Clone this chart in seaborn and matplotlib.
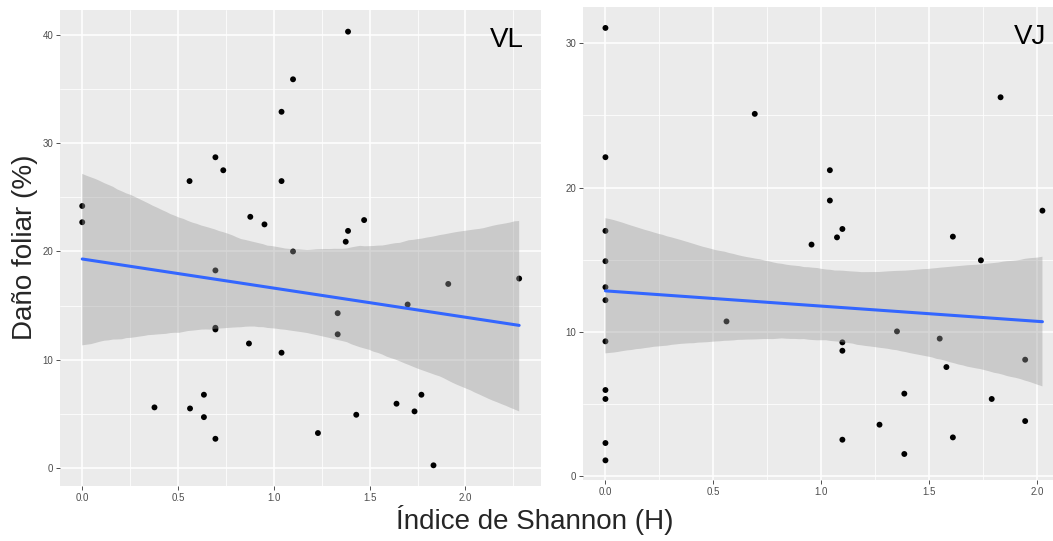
import numpy as np
import pandas as pd
import matplotlib
matplotlib.use("Agg")
import matplotlib.pyplot as plt
import seaborn as sns
from matplotlib.ticker import MultipleLocator

# ---- data ----
vl_h = [0.0, 0.0, 0.56, 0.695, 0.736, 0.877, 0.951, 1.04, 1.04, 1.10, 1.387, 1.471,
        1.387, 1.375, 1.10, 0.695, 0.695, 0.695, 0.87, 1.04, 0.635, 0.377, 0.5625,
        0.635, 0.695, 1.333, 1.333, 1.698, 1.91, 2.28, 1.23, 1.43, 1.64, 1.734, 1.77, 1.833]
vl_dano = [24.2, 22.7, 26.5, 28.7, 27.5, 23.2, 22.5, 32.9, 26.5, 35.9, 40.3, 22.9,
           21.9, 20.9, 20.0, 18.25, 12.95, 12.8, 11.5, 10.65, 6.77, 5.6, 5.5,
           4.7, 2.7, 14.3, 12.35, 15.1, 17.0, 17.5, 3.23, 4.92, 5.94, 5.23, 6.77, 0.25]

vj_h = [0.0] * 11 + [0.692, 0.561, 1.831, 1.04, 1.04, 1.098, 1.073, 0.955, 1.61, 2.025,
                     1.74, 1.351, 1.549, 1.098, 1.098, 1.58, 1.945, 1.385, 1.79, 1.27,
                     1.945, 1.098, 1.61, 1.385]
vj_dano = [31.05, 22.1, 17.0, 14.9, 13.1, 12.2, 9.35, 5.98, 5.36, 2.31, 1.11,
           25.1, 10.73, 26.25, 21.2, 19.1, 17.13, 16.55, 16.05, 16.6, 18.4,
           14.96, 10.04, 9.54, 9.28, 8.7, 7.57, 8.08, 5.73, 5.36, 3.58,
           3.83, 2.54, 2.7, 1.55]

panel_labels = ["VL", "VJ"]
x_label = "Índice de Shannon (H)"
y_label = "Daño foliar (%)"

sns.set_theme(style="darkgrid")
plt.rcParams["font.family"] = ["Liberation Sans", "DejaVu Sans"]

W, H = 1053, 541
fig = plt.figure(figsize=(W / 100, H / 100), dpi=100)
fig.patch.set_facecolor("white")


def px_axes(l, t, r, b):
    return fig.add_axes([l / W, 1 - b / H, (r - l) / W, (b - t) / H])


ax1 = px_axes(60, 10, 541, 486)
ax2 = px_axes(583, 7, 1053, 480)

panels = [
    (ax1, vl_h, vl_dano, panel_labels[0], (-0.116, 2.394), (-1.66, 42.3), 97.5, 0.965),
    (ax2, vj_h, vj_dano, panel_labels[1], (-0.104, 2.074), (-0.25, 32.5), 95, 0.985),
]

for ax, xs, ys, lab, xl, yl, ci, lx in panels:
    df = pd.DataFrame({"H": xs, "D": ys})
    ax.set_facecolor("#EBEBEB")
    sns.scatterplot(data=df, x="H", y="D", ax=ax, color="black", s=18,
                    edgecolor="none", zorder=3)
    sns.regplot(data=df, x="H", y="D", ax=ax, scatter=False, ci=ci,
                n_boot=4000, seed=3, color="#999999",
                line_kws={"lw": 2.2, "zorder": 5})
    # recolor line blue, band ggplot-grey
    ax.lines[-1].set_color("#3366FF")
    for coll in ax.collections:
        if coll.__class__.__name__ in ("PolyCollection", "FillBetweenPolyCollection"):
            coll.set_facecolor("#999999")
            coll.set_alpha(0.4)
            coll.set_edgecolor("none")
            coll.set_zorder(4)
    ax.set_xlim(*xl)
    ax.set_ylim(*yl)
    ax.xaxis.set_major_locator(MultipleLocator(0.5))
    ax.xaxis.set_minor_locator(MultipleLocator(0.25))
    ax.yaxis.set_major_locator(MultipleLocator(10))
    ax.yaxis.set_minor_locator(MultipleLocator(5))
    ax.grid(which="major", color="white", lw=1.1, zorder=0)
    ax.grid(which="minor", color="white", lw=0.55, zorder=0)
    ax.set_axisbelow(True)
    ax.tick_params(which="major", length=2.8, width=0.6, color="#333333",
                   labelsize=7, labelcolor="#4D4D4D", pad=2, bottom=True, left=True)
    ax.tick_params(which="minor", length=0)
    ax.xaxis.set_major_formatter(matplotlib.ticker.FormatStrFormatter("%.1f"))
    ax.yaxis.set_major_formatter(matplotlib.ticker.FormatStrFormatter("%d"))
    for s in ax.spines.values():
        s.set_visible(False)
    ax.set_xlabel("")
    ax.set_ylabel("")
    ax.text(lx, 0.965, lab, transform=ax.transAxes, ha="right", va="top",
            fontsize=20, color="black")

fig.text(535 / W, 1 - 520 / H, x_label, ha="center", va="center", fontsize=20)
fig.text(25 / W, 1 - 247 / H, y_label, ha="center", va="center", fontsize=20,
         rotation=90)

fig.savefig("out.png", dpi=100, facecolor="white")
